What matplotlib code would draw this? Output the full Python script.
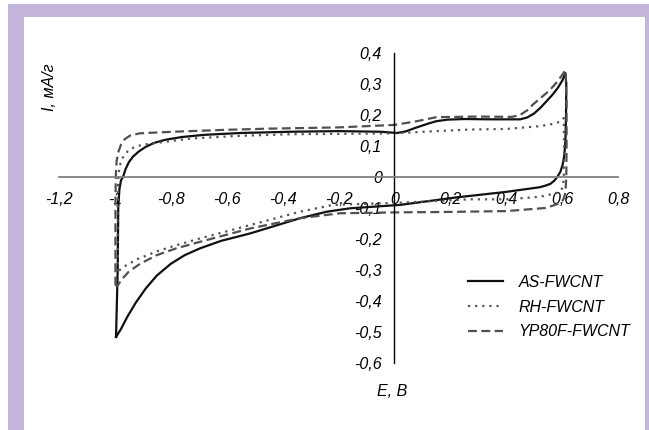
import matplotlib.pyplot as plt
from matplotlib.patches import Rectangle

plt.rcParams['font.family'] = ['Liberation Sans', 'DejaVu Sans']
plt.rcParams['font.style'] = 'italic'

# CV loops (E, V ; I, mA/g)
as_E = [-0.996, -0.990, -0.988, -0.984, -0.978, -0.971, -0.962, -0.95, -0.935, -0.915,
        -0.89, -0.86, -0.82, -0.76, -0.68, -0.55, -0.37, -0.20, -0.05, 0.01, 0.04, 0.08,
        0.12, 0.15, 0.19, 0.25, 0.35, 0.45, 0.475, 0.50, 0.521, 0.545, 0.568, 0.585, 0.60,
        0.612, 0.615, 0.614, 0.612, 0.608, 0.602, 0.594, 0.584, 0.572, 0.558, 0.54, 0.52,
        0.40, 0.22, 0.02, -0.159, -0.242, -0.338, -0.516, -0.62, -0.695, -0.75, -0.80,
        -0.85, -0.89, -0.925, -0.955, -0.978, -0.996]
as_I = [-0.516, -0.30, -0.10, -0.04, -0.01, 0.0, 0.025, 0.048, 0.066, 0.082,
        0.097, 0.11, 0.12, 0.129, 0.136, 0.142, 0.146, 0.148, 0.146, 0.142, 0.147, 0.16,
        0.172, 0.18, 0.185, 0.187, 0.186, 0.186, 0.192, 0.205, 0.222, 0.245, 0.268, 0.288, 0.31,
        0.335, 0.30, 0.20, 0.12, 0.07, 0.04, 0.017, 0.002, -0.012, -0.022, -0.028, -0.033,
        -0.048, -0.066, -0.090, -0.101, -0.112, -0.133, -0.182, -0.206, -0.23, -0.252, -0.28,
        -0.318, -0.36, -0.405, -0.45, -0.49, -0.516]

rh_E = [-0.99, -0.99, -0.988, -0.983, -0.975, -0.962, -0.945, -0.92, -0.88, -0.85, -0.73,
        -0.55, -0.37, -0.1, 0.0, 0.15, 0.27, 0.40, 0.52, 0.56, 0.593, 0.606, 0.607, 0.606,
        0.603, 0.596, 0.585, 0.57, 0.54, 0.52, 0.40, 0.27, 0.02, -0.22, -0.338, -0.516,
        -0.695, -0.78, -0.85, -0.92, -0.96, -0.99]
rh_I = [-0.305, -0.1, 0.0, 0.035, 0.058, 0.076, 0.09, 0.1, 0.107, 0.11, 0.124,
        0.133, 0.138, 0.14, 0.141, 0.148, 0.153, 0.155, 0.164, 0.17, 0.178, 0.19, 0.1, 0.0,
        -0.03, -0.044, -0.05, -0.054, -0.06, -0.064, -0.072, -0.072, -0.083, -0.09, -0.112, -0.155,
        -0.198, -0.22, -0.24, -0.265, -0.285, -0.305]

yp_E = [-0.998, -0.998, -0.997, -0.994, -0.988, -0.978, -0.965, -0.945, -0.91, -0.79,
        -0.61, -0.45, -0.2, 0.0, 0.08, 0.15, 0.3, 0.42, 0.45, 0.475, 0.497, 0.53, 0.556,
        0.585, 0.605, 0.612, 0.616, 0.616, 0.615, 0.612, 0.605, 0.595, 0.575, 0.54, 0.40,
        0.163, 0.02, -0.195, -0.338, -0.516, -0.695, -0.78, -0.85, -0.91, -0.95, -0.975,
        -0.99, -0.998]
yp_I = [-0.35, -0.1, 0.0, 0.05, 0.08, 0.105, 0.122, 0.134, 0.141, 0.146,
        0.152, 0.156, 0.16, 0.168, 0.18, 0.193, 0.195, 0.194, 0.2, 0.215, 0.235, 0.26, 0.28,
        0.31, 0.335, 0.345, 0.25, 0.1, 0.0, -0.05, -0.072, -0.082, -0.09, -0.1, -0.11,
        -0.113, -0.114, -0.117, -0.133, -0.166, -0.209, -0.23, -0.252, -0.28, -0.305, -0.33,
        -0.35, -0.35]

series = ['AS-FWCNT', 'RH-FWCNT', 'YP80F-FWCNT']
x_ticks = [-1.2, -1.0, -0.8, -0.6, -0.4, -0.2, 0.0, 0.2, 0.4, 0.6, 0.8]
y_ticks = [-0.6, -0.5, -0.4, -0.3, -0.2, -0.1, 0.0, 0.1, 0.2, 0.3, 0.4]


def fmt(v):
    s = ('%.1f' % v).replace('.', ',')
    s = s.replace(',0', '') if s.endswith(',0') else s
    return '0' if s in ('-0', '0') else s


fig = plt.figure(figsize=(6.49, 4.30), dpi=100)
W, H = 649, 430
FS = 11.5

# purple frame
fig.patches.append(Rectangle((8 / W, -0.1), 1.0, 1 - 4 / H + 0.1, transform=fig.transFigure,
                             facecolor='#c4b5db', edgecolor='none', zorder=-2))
fig.patches.append(Rectangle((24 / W, -0.1), (645 - 24) / W, 1 - 17 / H + 0.1, transform=fig.transFigure,
                             facecolor='white', edgecolor='none', zorder=-1))

ax = fig.add_axes([59 / W, (H - 363) / H, 559 / W, 310 / H])
ax.patch.set_alpha(0)

kw = dict(lw=1.6, solid_joinstyle='round', dash_joinstyle='round')
ax.plot(as_E, as_I, color='#111111', ls='-', label=series[0], **kw)
ax.plot(rh_E, rh_I, color='#555555', ls=(0, (1, 2.2)), label=series[1], **kw)
ax.plot(yp_E, yp_I, color='#505050', ls=(0, (4, 2)), label=series[2], **kw)

ax.set_xlim(-1.2, 0.8)
ax.set_ylim(-0.6, 0.4)
for s in ['top', 'right']:
    ax.spines[s].set_visible(False)
ax.spines['left'].set_position(('data', 0))
ax.spines['bottom'].set_position(('data', 0))
ax.spines['bottom'].set_color('#808080')
ax.spines['bottom'].set_linewidth(1.3)
ax.spines['left'].set_color('black')
ax.spines['left'].set_linewidth(1.0)

ax.set_xticks(x_ticks)
ax.set_xticklabels([fmt(v) for v in x_ticks])
ax.set_yticks(y_ticks)
ax.set_yticklabels([fmt(v) for v in y_ticks])
ax.tick_params(axis='x', length=0, pad=11, labelsize=FS)
ax.tick_params(axis='y', length=0, pad=9, labelsize=FS)

fig.text(49 / W, 1 - 87 / H, 'I, мА/г', rotation=90, ha='center', va='center', fontsize=FS)
fig.text(392 / W, 1 - 392 / H, 'E, В', ha='center', va='center', fontsize=FS)

leg = ax.legend(loc='upper left', bbox_to_anchor=(468 / W, 1 - 275 / H),
                bbox_transform=fig.transFigure, frameon=False, fontsize=FS,
                handlelength=2.2, handletextpad=0.95, labelspacing=0.6, borderpad=0,
                borderaxespad=0)

fig.savefig('out.png', dpi=100)
